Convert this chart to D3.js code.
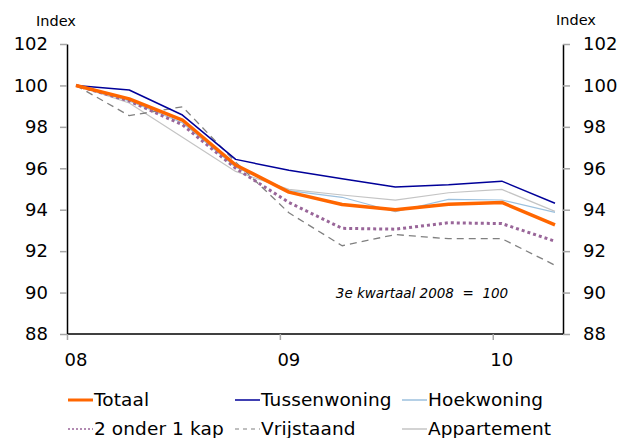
<!DOCTYPE html>
<html>
<head>
<meta charset="utf-8">
<script src="https://cdn.jsdelivr.net/npm/d3@7"></script>
<style>
  html, body { margin: 0; padding: 0; background: #fff; }
  svg { display: block; font-family: "DejaVu Sans", Verdana, sans-serif; }
</style>
</head>
<body>
<svg id="chart" width="621" height="438"></svg>
<script>
// Quarterly house price index, 3rd quarter 2008 = 100
const quarters = ["2008K3", "2008K4", "2009K1", "2009K2", "2009K3", "2009K4", "2010K1", "2010K2", "2010K3", "2010K4"];
const yearLabels = ["08", "09", "10"];
const yearStartIndex = [0, 4, 8];
const yTicks = [88, 90, 92, 94, 96, 98, 100, 102];

const totaal       = [100, 99.35, 98.33, 96.16, 94.85, 94.25, 94.00, 94.26, 94.35, 93.27];
const tussenwoning = [100, 99.78, 98.57, 96.43, 95.90, 95.50, 95.10, 95.20, 95.38, 94.31];
const hoekwoning   = [100, 99.25, 98.20, 96.05, 94.92, 94.60, 93.90, 94.50, 94.47, 93.87];
const tweeOnderEen = [100, 99.25, 98.10, 96.00, 94.35, 93.10, 93.06, 93.37, 93.33, 92.48];
const vrijstaand   = [100, 98.54, 98.97, 96.30, 93.85, 92.26, 92.80, 92.60, 92.60, 91.32];
const appartement  = [100, 99.15, 97.50, 95.85, 94.98, 94.71, 94.46, 94.82, 94.98, 93.92];

const seriesNames = ["Totaal", "Tussenwoning", "Hoekwoning", "2 onder 1 kap", "Vrijstaand", "Appartement"];
const seriesValues = [totaal, tussenwoning, hoekwoning, tweeOnderEen, vrijstaand, appartement];

const styles = {
  "Totaal":        { color: "#ff6600", width: 3.5, dash: null,   legendWidth: 3 },
  "Tussenwoning":  { color: "#000099", width: 1.5, dash: null,   legendWidth: 1.5 },
  "Hoekwoning":    { color: "#9dc1de", width: 1.2, dash: null,   legendWidth: 1.5 },
  "2 onder 1 kap": { color: "#996699", width: 3,   dash: "3,3",  legendWidth: 1.5, legendDash: "2,2" },
  "Vrijstaand":    { color: "#808080", width: 1.3, dash: "7,5",  legendWidth: 1.2, legendDash: "4,4" },
  "Appartement":   { color: "#c4c4c4", width: 1.2, dash: null,   legendWidth: 1.5 }
};
const drawOrder = ["Appartement", "Hoekwoning", "Vrijstaand", "2 onder 1 kap", "Tussenwoning", "Totaal"];

const svg = d3.select("#chart");
const plot = { left: 67, right: 563, top: 44, bottom: 334 };

const x = d3.scaleLinear().domain([0, quarters.length - 1]).range([76, 555]);
const y = d3.scaleLinear().domain([88, 102]).range([plot.bottom, plot.top]);

// Left axis
const leftAxis = svg.append("g")
  .attr("transform", `translate(${plot.left},0)`)
  .call(d3.axisLeft(y).tickValues(yTicks).tickSize(7).tickPadding(12).tickSizeOuter(0));
// Right axis
const rightAxis = svg.append("g")
  .attr("transform", `translate(${plot.right},0)`)
  .call(d3.axisRight(y).tickValues(yTicks).tickSize(7).tickPadding(13).tickSizeOuter(0));

[leftAxis, rightAxis].forEach(g => {
  g.select(".domain").attr("stroke", "#000").attr("stroke-width", 1.5);
  g.selectAll(".tick line").attr("stroke", "#a6a6a6").attr("stroke-width", 1.5);
  g.selectAll(".tick text").attr("fill", "#000").style("font-size", "18px")
    .style("font-family", "'DejaVu Sans', Verdana, sans-serif");
});

// Bottom axis: labels sit under the first quarter of each year, tick marks slightly before it
const tickOffset = -0.16;
svg.append("line")
  .attr("x1", plot.left).attr("x2", plot.right)
  .attr("y1", plot.bottom).attr("y2", plot.bottom)
  .attr("stroke", "#000").attr("stroke-width", 1.5);
svg.append("g").selectAll("line")
  .data(yearStartIndex)
  .join("line")
  .attr("x1", d => x(d + tickOffset)).attr("x2", d => x(d + tickOffset))
  .attr("y1", plot.bottom).attr("y2", plot.bottom + 6)
  .attr("stroke", "#a6a6a6").attr("stroke-width", 1.5);
svg.append("g").selectAll("text")
  .data(yearStartIndex)
  .join("text")
  .attr("x", d => x(d))
  .attr("y", 366)
  .attr("text-anchor", "middle")
  .style("font-size", "18px")
  .text((d, i) => yearLabels[i]);

// Axis titles
svg.append("text").attr("x", 36).attr("y", 26).style("font-size", "14.5px").text("Index");
svg.append("text").attr("x", 556).attr("y", 25).style("font-size", "14.5px").text("Index");

// Lines
const line = d3.line()
  .x((d, i) => x(i))
  .y(d => y(d));

svg.append("g").selectAll("path")
  .data(drawOrder)
  .join("path")
  .attr("d", name => line(seriesValues[seriesNames.indexOf(name)]))
  .attr("fill", "none")
  .attr("stroke", name => styles[name].color)
  .attr("stroke-width", name => styles[name].width)
  .attr("stroke-dasharray", name => styles[name].dash)
  .attr("stroke-linejoin", "round");

// Base note
svg.append("text")
  .attr("x", 422)
  .attr("y", 298)
  .attr("text-anchor", "middle")
  .style("font-size", "13.5px")
  .style("font-style", "italic")
  .attr("xml:space", "preserve")
  .text("3e kwartaal 2008  =  100");

// Legend: three columns, two rows
const legendCols = [68, 235, 402];
const legendRows = [400, 429];
const legend = svg.append("g");
seriesNames.forEach((name, i) => {
  const cx = legendCols[i % 3];
  const cy = legendRows[Math.floor(i / 3)];
  const st = styles[name];
  legend.append("line")
    .attr("x1", cx).attr("x2", cx + 25)
    .attr("y1", cy).attr("y2", cy)
    .attr("stroke", st.color)
    .attr("stroke-width", st.legendWidth)
    .attr("stroke-dasharray", st.legendDash || null);
  legend.append("text")
    .attr("x", cx + 26)
    .attr("y", cy + 6)
    .style("font-size", "18.5px")
    .style("letter-spacing", "0.1px")
    .text(name);
});
</script>
</body>
</html>
